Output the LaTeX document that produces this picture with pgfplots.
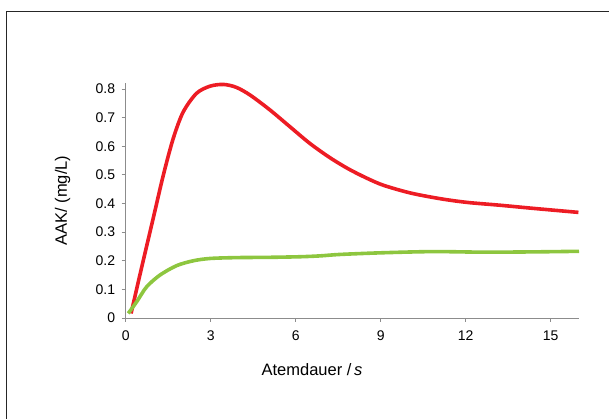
\documentclass[border=0pt]{standalone}
\usepackage{fontspec}
\setmainfont{Liberation Sans}
\usepackage{pgfplots}
\pgfplotsset{compat=1.18}
\definecolor{aakred}{HTML}{ED1C24}
\definecolor{aakgreen}{HTML}{8DC63F}
\definecolor{axgray}{HTML}{8C8C8C}

\begin{document}
\begin{tikzpicture}[x=1pt,y=1pt]
\useasboundingbox (0,0) rectangle (609,419);
% frame (only left and top edges are visible)
\draw[line width=1pt, black!85] (6.5,0) -- (6.5,407.5) -- (609,407.5);
\begin{axis}[
    at={(125.7pt,101pt)}, anchor=south west,
    scale only axis, width=453.3pt, height=234.7pt,
    xmin=0, xmax=16, ymin=0, ymax=0.82,
    clip=false,
    axis lines=left,
    axis line style={axgray, line width=0.8pt, -},
    xtick={0,3,6,9,12,15},
    ytick={0,0.1,0.2,0.3,0.4,0.5,0.6,0.7,0.8},
    yticklabel style={/pgf/number format/fixed, /pgf/number format/precision=1, xshift=-3pt},
    xticklabel style={yshift=-5pt},
    tick style={axgray, line width=0.8pt},
    tick align=outside, major tick length=4pt,
    tick label style={font=\fontsize{14}{16}\selectfont},
    /pgf/number format/assume math mode=true,
    label style={font=\fontsize{16.5}{19}\selectfont},
    xlabel={Atemdauer /\,\textit{s}},
    ylabel={AAK/ (mg/L)},
    xlabel style={at={(axis description cs:0.411,-0.2216)}, anchor=center},
    ylabel style={at={(axis description cs:-0.139,0.5)}, anchor=center},
]
    % red series
    \addplot[color=aakred, line width=3.6pt, smooth, tension=0.5] coordinates {
        (0.19,0.016) (0.5,0.15) (0.97,0.348) (1.33,0.50) (1.68,0.628) (2.03,0.72)
        (2.5,0.785) (2.98,0.81) (3.45,0.816) (3.9,0.806) (4.39,0.779) (5.09,0.727)
        (5.8,0.668) (6.5,0.61) (7.21,0.560) (7.86,0.521) (8.5,0.489) (9.09,0.464)
        (10.04,0.437) (11.09,0.417) (12.04,0.404) (13.21,0.394) (14.39,0.383) (15.98,0.369)
    };
    % green series
    \addplot[color=aakgreen, line width=3.6pt, smooth, tension=0.5] coordinates {
        (0.09,0.016) (0.39,0.057) (0.74,0.109) (1.21,0.150) (1.8,0.183) (2.39,0.200)
        (2.98,0.208) (3.92,0.211) (5.09,0.212) (6.15,0.214) (6.86,0.217) (7.56,0.222)
        (9.09,0.228) (10.86,0.232) (12.62,0.230) (14.39,0.231) (16.0,0.233)
    };
\end{axis}
\end{tikzpicture}
\end{document}
